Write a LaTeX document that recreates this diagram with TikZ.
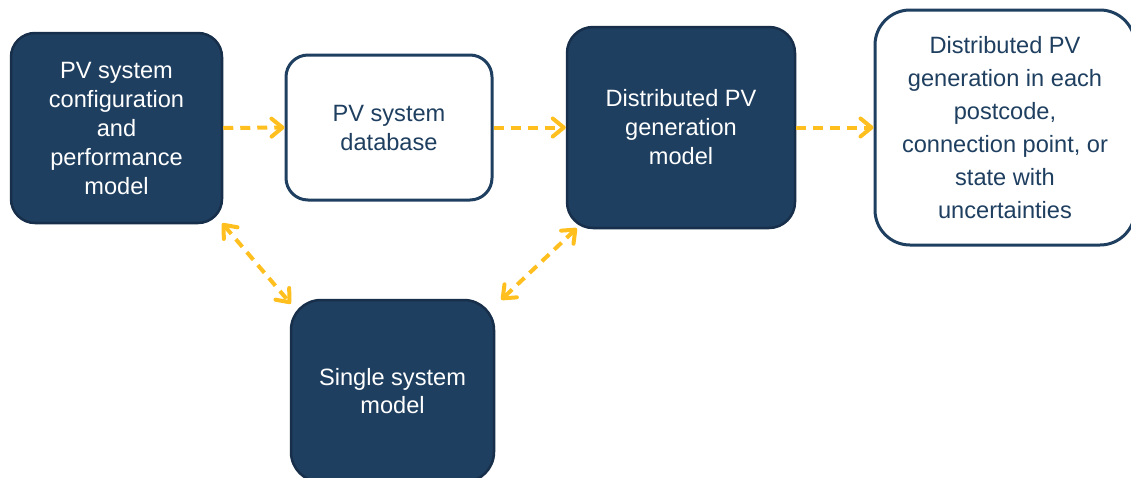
\documentclass[tikz,border=0pt]{standalone}
\usepackage{fontspec}
\setmainfont{Liberation Sans}
\usetikzlibrary{arrows.meta,calc}
\definecolor{navy}{HTML}{1F3F60}
\definecolor{navyedge}{HTML}{172F4A}
\definecolor{amber}{HTML}{FFBF1F}

\tikzset{barb/.tip={Straight Barb[length=11pt,width=18pt,line cap=round,line join=round]}}

\begin{document}
\begin{tikzpicture}[x=1pt,y=-1pt,
  boxtext/.style={align=center, inner sep=0pt, font=\fontsize{23.6}{29}\selectfont},
  darkbox/.style={boxtext, draw=navyedge, line width=2.5pt, fill=navy, text=white},
  lightbox/.style={boxtext, draw=navy, line width=3pt, fill=white, text=navy},
  flow/.style={draw=amber, line width=4pt, dash pattern=on 10pt off 7pt, -{barb}},
  twoway/.style={draw=amber, line width=4pt, dash pattern=on 10pt off 7pt, {barb}-{barb}},
]
% page frame
\useasboundingbox (0,0) rectangle (1131,477);
\clip (0,0) rectangle (1131,477);

% boxes
\node[darkbox, minimum width=211pt, minimum height=190pt, rounded corners=24pt]
  (cfg) at (116.5,128) {PV system\\configuration\\and\\performance\\model};
\node[lightbox, minimum width=206pt, minimum height=145pt, rounded corners=22pt]
  (db) at (389,127.5) {PV system\\database};
\node[darkbox, minimum width=228pt, minimum height=201pt, rounded corners=26pt]
  (gen) at (681,127.5) {Distributed PV\\generation\\model};
\node[lightbox, minimum width=260pt, minimum height=235pt, rounded corners=35pt,
  font=\fontsize{23.6}{33}\selectfont]
  (out) at (1005,127.5) {Distributed PV\\generation in each\\postcode,\\connection point, or\\state with\\uncertainties};
\node[darkbox, minimum width=203pt, minimum height=182pt, rounded corners=30pt,
  font=\fontsize{23.6}{28}\selectfont]
  (single) at (392.5,391) {Single system\\model};

% connectors
\draw[flow] (cfg.east) -- (db.west);
\draw[flow] (db.east) -- (gen.west);
\draw[flow] (gen.east) -- (out.west);
\draw[twoway] ($(cfg.south east)+(-1,-1)$) -- ($(single.north west)+(1,5)$);
\draw[twoway] ($(gen.south west)+(11,-1)$) -- ($(single.north east)+(6,1)$);
\end{tikzpicture}
\end{document}
